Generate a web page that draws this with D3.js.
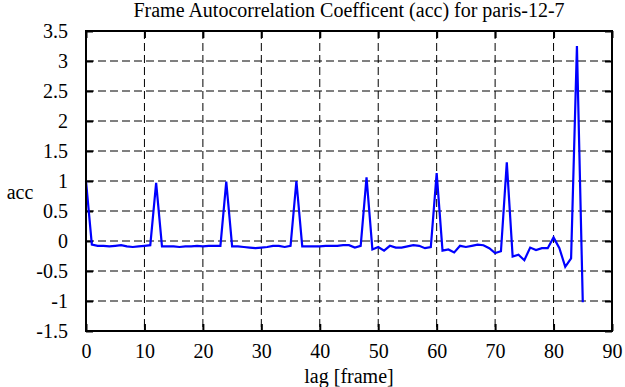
<!DOCTYPE html>
<html>
<head>
<meta charset="utf-8">
<script src="https://cdn.jsdelivr.net/npm/d3@7"></script>
<style>
  body { margin: 0; background: #fff; }
  svg text { font-family: "Liberation Serif", "Times New Roman", serif; font-size: 20px; fill: #000; }
</style>
</head>
<body>
<div id="main"></div>
<script>
var title = 'Frame Autocorrelation Coefficent (acc) for paris-12-7';
var xLabel = 'lag [frame]';
var yLabel = 'acc';

var xTicks = [0, 10, 20, 30, 40, 50, 60, 70, 80, 90];
var yTicks = [-1.5, -1, -0.5, 0, 0.5, 1, 1.5, 2, 2.5, 3, 3.5];

// lag 0..85
var lags = d3.range(0, 86);
var acc = [
    1.0, -0.06, -0.08, -0.08, -0.09, -0.08, -0.07, -0.09, -0.1, -0.09,
    -0.08, -0.07, 0.97, -0.09, -0.09, -0.09, -0.1, -0.09, -0.09, -0.08,
    -0.09, -0.08, -0.08, -0.08, 0.99, -0.09, -0.09, -0.1, -0.11, -0.12,
    -0.11, -0.1, -0.08, -0.08, -0.1, -0.08, 1.0, -0.09, -0.09, -0.09,
    -0.09, -0.08, -0.08, -0.08, -0.07, -0.07, -0.11, -0.08, 1.06, -0.14,
    -0.1, -0.16, -0.08, -0.11, -0.11, -0.09, -0.07, -0.08, -0.12, -0.1,
    1.13, -0.16, -0.14, -0.19, -0.08, -0.1, -0.08, -0.06, -0.07, -0.12,
    -0.2, -0.17, 1.31, -0.26, -0.23, -0.32, -0.11, -0.15, -0.12, -0.12,
    0.06, -0.12, -0.43, -0.29, 3.25, -1.02
];

var W = 625, H = 387;
var margin = {top: 31, bottom: 56, left: 86, right: 13};
var width = W - margin.left - margin.right,
    height = H - margin.top - margin.bottom;

var svg = d3.select('#main').append('svg')
    .attr('width', W)
    .attr('height', H);

var g = svg.append('g')
    .attr('transform', 'translate(' + margin.left + ',' + margin.top + ')');

var x = d3.scaleLinear().domain([0, 90]).range([0, width]);
var y = d3.scaleLinear().domain([-1.5, 3.5]).range([height, 0]);

// grid
g.append('g').selectAll('line')
    .data(xTicks.slice(1, -1))
    .enter().append('line')
    .attr('x1', d => x(d)).attr('x2', d => x(d))
    .attr('y1', 0).attr('y2', height)
    .attr('stroke', '#000').attr('stroke-width', 1)
    .attr('stroke-dasharray', '8,4');

g.append('g').selectAll('line')
    .data(yTicks.slice(1, -1))
    .enter().append('line')
    .attr('x1', 0).attr('x2', width)
    .attr('y1', d => y(d)).attr('y2', d => y(d))
    .attr('stroke', '#000').attr('stroke-width', 1)
    .attr('stroke-dasharray', '8,4');

// axes, ticks pointing inward, mirrored
function styleAxis(sel){
    sel.attr('font-family', null).attr('font-size', null);
    sel.select('.domain').remove();
    sel.selectAll('.tick line').attr('stroke', '#000').attr('stroke-width', 2);
    sel.selectAll('.tick text').attr('fill', '#000');
}

g.append('g')
    .attr('transform', 'translate(0,' + height + ')')
    .call(d3.axisBottom(x).tickValues(xTicks).tickSize(-7).tickPadding(13).tickFormat(d3.format('d')))
    .call(styleAxis);

g.append('g')
    .call(d3.axisTop(x).tickValues(xTicks).tickSize(-7).tickFormat(''))
    .call(styleAxis);

g.append('g')
    .call(d3.axisLeft(y).tickValues(yTicks).tickSize(-7).tickPadding(18).tickFormat(d => String(d)))
    .call(styleAxis);

g.append('g')
    .attr('transform', 'translate(' + width + ',0)')
    .call(d3.axisRight(y).tickValues(yTicks).tickSize(-7).tickFormat(''))
    .call(styleAxis);

// data line
var line = d3.line()
    .x((d, i) => x(lags[i]))
    .y(d => y(d));

g.append('path')
    .datum(acc)
    .attr('d', line)
    .attr('fill', 'none')
    .attr('stroke', '#0000ff')
    .attr('stroke-width', 2.2);

// border
g.append('rect')
    .attr('x', 0).attr('y', 0)
    .attr('width', width).attr('height', height)
    .attr('fill', 'none')
    .attr('stroke', '#000')
    .attr('stroke-width', 2);

// labels
svg.append('text')
    .attr('x', margin.left + width / 2)
    .attr('y', 17)
    .attr('text-anchor', 'middle')
    .text(title);

svg.append('text')
    .attr('x', margin.left + width / 2)
    .attr('y', 383)
    .attr('text-anchor', 'middle')
    .text(xLabel);

svg.append('text')
    .attr('x', 20)
    .attr('y', 199)
    .attr('text-anchor', 'middle')
    .text(yLabel);
</script>
</body>
</html>
